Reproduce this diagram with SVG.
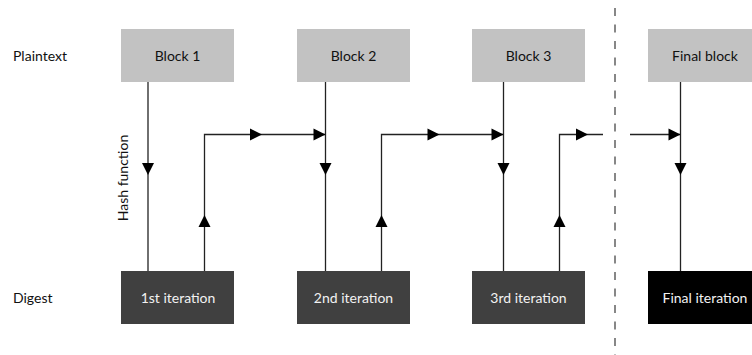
<svg xmlns="http://www.w3.org/2000/svg" width="752" height="355" viewBox="0 0 752 355">
<style>
.lbl{font-family:"Lato","Liberation Sans",sans-serif;font-size:14px;fill:#111}
.top rect{fill:#c2c2c2}
.top text{font-family:"Lato","Liberation Sans",sans-serif;font-size:14px;fill:#111;text-anchor:middle}
.bot rect{fill:#404040}
.bot text{font-family:"Lato","Liberation Sans",sans-serif;font-size:14px;fill:#f2f2f2;text-anchor:middle}
.ln{fill:none;stroke:#222;stroke-width:1.3}
.dash{fill:none;stroke:#555;stroke-width:1.4;stroke-dasharray:8 8.5}
.ah{fill:#000}
</style>
<defs>
<path id="arr" d="M0,0 L-12,-6 L-12,6 Z"/>
</defs>
<rect width="752" height="355" fill="#fff"/>
<text class="lbl" x="13" y="61">Plaintext</text>
<text class="lbl" x="13" y="303">Digest</text>
<text class="lbl" transform="translate(128,178) rotate(-90)" text-anchor="middle">Hash function</text>

<g id="block1" class="top"><rect x="121" y="29" width="113" height="53"/><text x="177.5" y="61">Block 1</text></g>
<g id="block2" class="top"><rect x="297" y="29" width="113" height="53"/><text x="353.5" y="61">Block 2</text></g>
<g id="block3" class="top"><rect x="472" y="29" width="113" height="53"/><text x="528.5" y="61">Block 3</text></g>
<g id="finalblock" class="top"><rect x="648" y="29" width="113" height="53"/><text x="705" y="61">Final block</text></g>

<g id="iter1" class="bot"><rect x="121" y="271" width="113" height="53"/><text x="178" y="303">1st iteration</text></g>
<g id="iter2" class="bot"><rect x="297" y="271" width="113" height="53"/><text x="353.5" y="303">2nd iteration</text></g>
<g id="iter3" class="bot"><rect x="472" y="271" width="113" height="53"/><text x="528.5" y="303">3rd iteration</text></g>
<g id="iterfinal" class="bot"><rect x="648" y="271" width="113" height="53" style="fill:#000"/><text x="705" y="303">Final iteration</text></g>

<g id="connectors">
<line class="dash" x1="615" y1="8" x2="615" y2="355"/>
<line class="ln" x1="148" y1="82" x2="148" y2="271"/>
<line class="ln" x1="325.5" y1="82" x2="325.5" y2="271"/>
<line class="ln" x1="503.5" y1="82" x2="503.5" y2="271"/>
<line class="ln" x1="680.5" y1="82" x2="680.5" y2="271"/>
<polyline class="ln" points="204.5,271 204.5,134.5 325.5,134.5"/>
<polyline class="ln" points="381.5,271 381.5,134.5 503.5,134.5"/>
<polyline class="ln" points="559.5,271 559.5,134.5 603,134.5"/>
<line class="ln" x1="630" y1="134.5" x2="680.5" y2="134.5"/>
<use href="#arr" class="ah" transform="translate(148,175) rotate(90)"/>
<use href="#arr" class="ah" transform="translate(325.5,175) rotate(90)"/>
<use href="#arr" class="ah" transform="translate(503.5,175) rotate(90)"/>
<use href="#arr" class="ah" transform="translate(680.5,175) rotate(90)"/>
<use href="#arr" class="ah" transform="translate(204.5,215) rotate(-90)"/>
<use href="#arr" class="ah" transform="translate(381.5,215) rotate(-90)"/>
<use href="#arr" class="ah" transform="translate(559.5,215) rotate(-90)"/>
<use href="#arr" class="ah" transform="translate(262,134.5)"/>
<use href="#arr" class="ah" transform="translate(325.5,134.5)"/>
<use href="#arr" class="ah" transform="translate(439.5,134.5)"/>
<use href="#arr" class="ah" transform="translate(503.5,134.5)"/>
<use href="#arr" class="ah" transform="translate(588,134.5)"/>
<use href="#arr" class="ah" transform="translate(680.5,134.5)"/>
</g>
</svg>
